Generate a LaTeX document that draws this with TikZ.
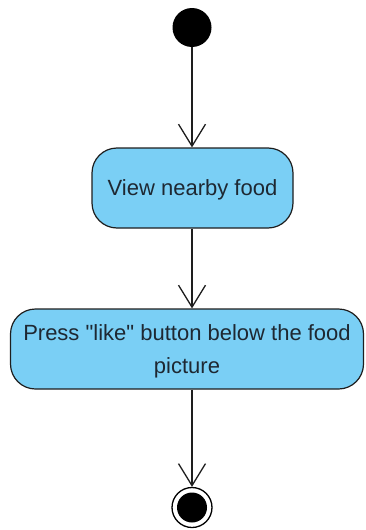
\documentclass[tikz,border=0pt]{standalone}
\usepackage{fontspec}
\setmainfont{Liberation Sans}[Ligatures=TeXOff]
\usetikzlibrary{arrows.meta}

\definecolor{actfill}{RGB}{122,207,245}
\definecolor{actline}{RGB}{30,30,30}
\definecolor{acttext}{RGB}{30,40,50}

\tikzset{
  activity/.style={draw=actline, fill=actfill, line width=1.2pt,
    rounded corners=25pt, minimum height=80pt, inner sep=0pt,
    text=acttext, align=center, text depth=-5pt,
    font=\fontsize{22}{33}\selectfont},
  flow/.style={draw=actline, line width=1.3pt,
    -{Straight Barb[length=22pt, width=27pt, line width=1.3pt]}},
  initial/.style={circle, fill=black, minimum size=39pt, inner sep=0pt},
  final/.style={circle, draw=black, line width=1.3pt, fill=white,
    minimum size=40pt, inner sep=0pt}
}

\begin{document}
\begin{tikzpicture}[x=1pt, y=-1pt]
  \useasboundingbox (0,0) rectangle (365,530);

  % start and end states
  \node[initial] (start) at (192,27.5) {};
  \node[final] (end) at (192,507.5) {};
  \node[circle, fill=black, minimum size=30pt, inner sep=0pt] (endcore) at (end) {};

  % actions
  \node[activity, minimum width=201pt] (view) at (192.5,188) {View nearby food};
  \node[activity, minimum width=353pt] (like) at (187,349)
    {Press "like" button below the food\\picture};

  % control flows
  \draw[flow] (start) -- (start |- view.north);
  \draw[flow] (start |- view.south) -- (start |- like.north);
  \draw[flow] (start |- like.south) -- (end.north);
\end{tikzpicture}
\end{document}
